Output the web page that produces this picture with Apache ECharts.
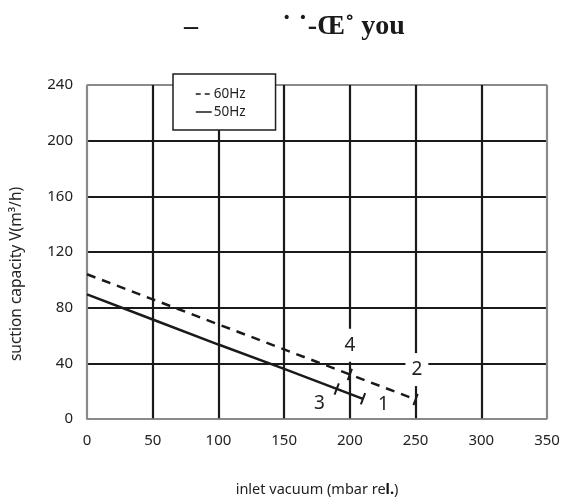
<!DOCTYPE html>
<html>
<head>
<meta charset="utf-8">
<script src="https://cdn.jsdelivr.net/npm/echarts@6/dist/echarts.min.js"></script>
<style>html,body{margin:0;padding:0;background:#fff}#c{width:567px;height:504px}</style>
</head>
<body>
<div id="c"></div>
<script>
// Data
var xTicks = [0, 50, 100, 150, 200, 250, 300, 350];
var yTicks = [0, 40, 80, 120, 160, 200, 240];
var vacuum60 = [0, 50, 100, 150, 200, 250];
var flow60 = [104, 86, 68, 50, 32, 14];
var vacuum50 = [0, 50, 100, 150, 210];
var flow50 = [89.5, 71.5, 53.5, 36, 14.5];
var marks60 = [[200, 32], [250, 14]];
var marks50 = [[190, 21.5], [210, 14.5]];
var curveLabels = [[200, 53, '4'], [251, 35.5, '2'], [176.8, 11.2, '3'], [225.5, 10, '1']];

var FONT = 'Noto Sans';
function pairs(xs, ys) { return xs.map(function (x, i) { return [x, ys[i]]; }); }
function lineColors(n) { var a = []; for (var i = 0; i < n; i++) a.push(i === 0 || i === n - 1 ? '#8a8a8a' : '#1a1a1a'); return a; }
var boxed = { '4': true, '2': true };
var labelData = curveLabels.map(function (d) {
  return { value: d, label: boxed[d[2]] ? { backgroundColor: '#fff', padding: [9, 6, 5, 6] } : { backgroundColor: 'transparent', padding: 0 } };
});

var chart = echarts.init(document.getElementById('c'));
chart.setOption({
  animation: false,
  backgroundColor: '#fff',
  title: [
    { text: '–', left: 179, top: 8, textStyle: { fontFamily: 'Liberation Serif', fontWeight: 'bold', fontSize: 28, color: '#1a1a1a' } },
    { text: '˙ ˙-Œ˚ you', left: 277, top: 8, textStyle: { fontFamily: 'Liberation Serif', fontWeight: 'bold', fontSize: 28, color: '#1a1a1a' } }
  ],
  legend: {
    orient: 'vertical', left: 173, top: 74,
    data: [{ name: '60Hz', lineStyle: { type: [5, 4], width: 1.5 } }, { name: '50Hz', lineStyle: { width: 1.5 } }],
    backgroundColor: '#fff', borderColor: '#1e1e1e', borderWidth: 1.5,
    padding: [13, 30, 11, 22],
    itemWidth: 16, itemHeight: 10, itemGap: 4,
    itemStyle: { color: 'transparent', borderWidth: 0, opacity: 0 },
    textStyle: { fontFamily: FONT, fontSize: 13.5, color: '#222', padding: [0, 0, 0, -3] }
  },
  grid: { left: 87, right: 20, top: 85, bottom: 85 },
  xAxis: {
    type: 'value', min: 0, max: 350, interval: 50,
    name: 'inlet vacuum (mbar re{b|l.})', nameLocation: 'middle', nameGap: 63,
    nameTextStyle: { fontFamily: FONT, fontSize: 14.5, color: '#222', rich: { b: { fontFamily: FONT, fontSize: 14.5, fontWeight: 'bold', color: '#111' } } },
    axisLine: { show: true, lineStyle: { color: '#8a8a8a', width: 1.5 } },
    axisTick: { show: false },
    axisLabel: { margin: 14, fontFamily: FONT, fontSize: 15, color: '#222', formatter: function (v) { return xTicks.indexOf(v) >= 0 ? String(v) : ''; } },
    splitLine: { show: true, lineStyle: { color: lineColors(xTicks.length), width: 2.2 } }
  },
  yAxis: {
    type: 'value', min: 0, max: 240, interval: 40,
    axisLine: { show: true, lineStyle: { color: '#8a8a8a', width: 1.5 } },
    axisTick: { show: false },
    axisLabel: { margin: 14, fontFamily: FONT, fontSize: 15, color: '#222', formatter: function (v) { return yTicks.indexOf(v) >= 0 ? String(v) : ''; } },
    splitLine: { show: true, lineStyle: { color: lineColors(yTicks.length), width: 2.2 } }
  },
  graphic: [{
    type: 'text', x: 17, y: 274, rotation: Math.PI / 2, z: 10,
    style: { text: 'suction capacity V(m³/h)', fontFamily: FONT, fontSize: 15.5, fill: '#222', align: 'center', verticalAlign: 'middle' }
  }],
  series: [
    { name: '60Hz', type: 'line', data: pairs(vacuum60, flow60), symbol: 'none', z: 4,
      lineStyle: { color: '#1a1a1a', width: 2.5, type: [9, 7] }, itemStyle: { color: '#1a1a1a' } },
    { name: '50Hz', type: 'line', data: pairs(vacuum50, flow50), symbol: 'none', z: 4,
      lineStyle: { color: '#1a1a1a', width: 2.5 }, itemStyle: { color: '#1a1a1a' } },
    { type: 'scatter', data: marks60.concat(marks50), symbol: 'rect', symbolSize: [2, 12], symbolRotate: -21, z: 5,
      itemStyle: { color: '#1a1a1a', opacity: 1 }, silent: true },
    { type: 'scatter', data: labelData, symbolSize: 0, z: 6, silent: true,
      itemStyle: { opacity: 1, color: '#222' },
      label: { show: true, position: 'inside', formatter: function (p) { return p.value[2]; },
        fontFamily: FONT, fontSize: 19, color: '#222', opacity: 1 } }
  ]
});
</script>
</body>
</html>
